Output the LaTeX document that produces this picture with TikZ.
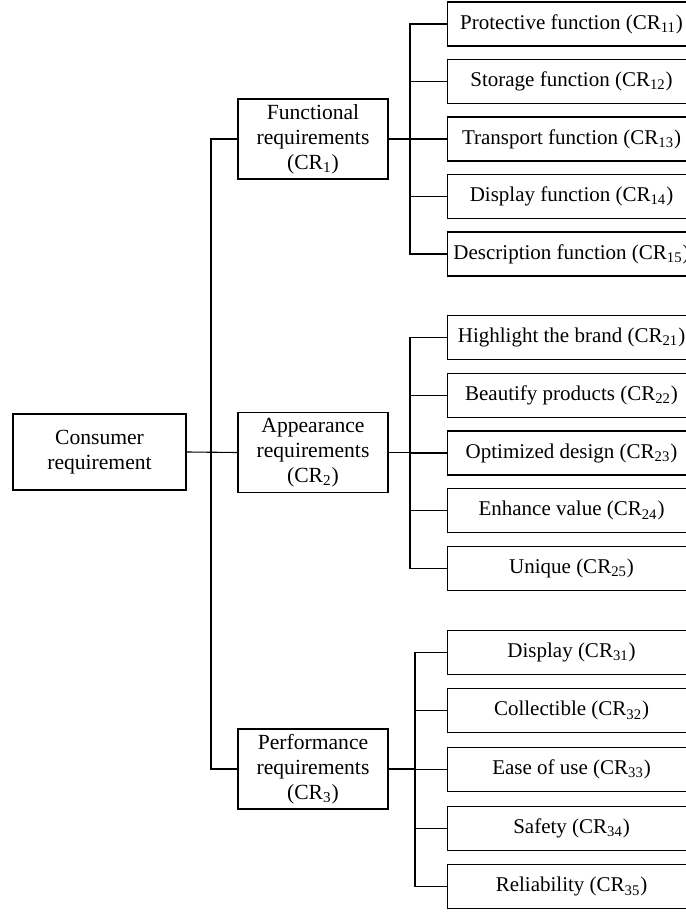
\documentclass[tikz,border=0pt]{standalone}
\usepackage{fontspec}
\setmainfont{Liberation Serif}
\usetikzlibrary{positioning}

\begin{document}
\begin{tikzpicture}[
    x = 0.5pt, y = -0.5pt,
    line width = 0.55pt,
    every node/.style = {font=\fontsize{10.8}{12.5}\selectfont},
    box/.style = {draw, line width=0.55pt, align=center, inner sep=1pt},
    root/.style = {box, minimum width=86.5pt, minimum height=38pt},
    mid/.style = {box, minimum width=75pt, minimum height=40pt},
    leaf/.style = {box, anchor=west, minimum width=124pt, minimum height=22pt,
        font=\fontsize{10.5}{12.5}\selectfont}
  ]
  \useasboundingbox (0,0) rectangle (685,913);

  % left side
  \node[root] (cons) at (99.5,452) {Consumer\\requirement};
  \node[mid] (f) at (313,139) {Functional\\requirements\\(CR\textsubscript{1})};
  \node[mid] (a) at (313,452.5) {Appearance\\requirements\\(CR\textsubscript{2})};
  \node[mid] (p) at (313,769) {Performance\\requirements\\(CR\textsubscript{3})};

  \coordinate (trunk) at (211,452);
  \draw (cons.east) -- (a.west);
  \draw (trunk) |- (f.west);
  \draw (trunk) |- (p.west);

  % functional
  \foreach \txt/\n [count=\k] in {Protective function/11, Storage function/12,
      Transport function/13, Display function/14, Description function/15}
    \node[leaf] (r1\k) at (447,{139+(\k-3)*57.5}) {\txt{} (CR\textsubscript{\n})};
  \coordinate (fork1) at (410,139);
  \draw (f.east) -- (fork1);
  \foreach \k in {1,...,5}
    \draw (fork1) |- (r1\k.west);

  % appearance
  \foreach \txt/\n [count=\k] in {Highlight the brand/21, Beautify products/22,
      Optimized design/23, Enhance value/24, Unique/25}
    \node[leaf] (r2\k) at (447,{453+(\k-3)*57.8}) {\txt{} (CR\textsubscript{\n})};
  \coordinate (fork2) at (410,452.5);
  \draw (a.east) -- (fork2);
  \foreach \k in {1,...,5}
    \draw (fork2) |- (r2\k.west);

  % performance
  \foreach \txt/\n [count=\k] in {Display/31, Collectible/32,
      Ease of use/33, Safety/34, Reliability/35}
    \node[leaf] (r3\k) at (447,{769.5+(\k-3)*58.7}) {\txt{} (CR\textsubscript{\n})};
  \coordinate (fork3) at (415,769);
  \draw (p.east) -- (fork3);
  \foreach \k in {1,...,5}
    \draw (fork3) |- (r3\k.west);
\end{tikzpicture}
\end{document}
